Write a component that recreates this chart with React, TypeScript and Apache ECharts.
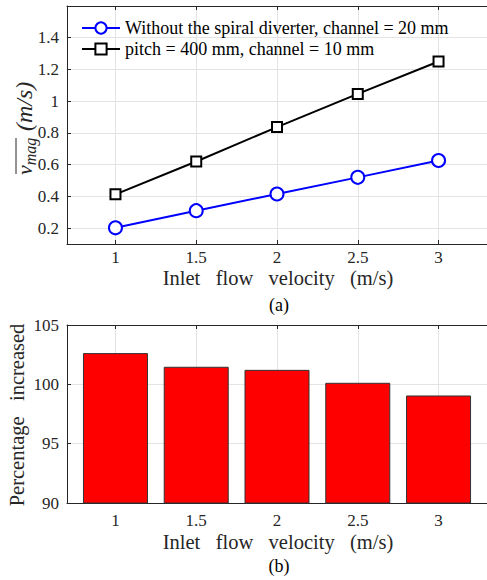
import React, { useEffect, useRef } from "react";
import * as echarts from "echarts";

const velocities = [1, 1.5, 2, 2.5, 3];
const withoutDiverter = [0.202, 0.31, 0.415, 0.52, 0.626];
const pitch400 = [0.413, 0.62, 0.837, 1.046, 1.25];
const percentIncreased = [102.63, 101.48, 101.22, 100.13, 99.06];
const topYTicks = [0.2, 0.4, 0.6, 0.8, 1, 1.2, 1.4];
const bottomYTicks = [90, 95, 100, 105];
const seriesNames = [
  "Without the spiral diverter, channel = 20 mm",
  "pitch = 400 mm, channel = 10 mm",
];
const xTitle = "Inlet   flow   velocity   (m/s)";
const bottomYTitle = "Percentage   increased";

const FONT = "Liberation Serif";
const AX = "#262626";
const GRIDC = "#e3e3e3";

function xAxisBase(gridIndex: number, labelMargin: number) {
  return {
    type: "value",
    gridIndex,
    min: 0.7,
    max: 3.3,
    position: "bottom",
    axisLine: { show: true, onZero: false, lineStyle: { color: AX, width: 1 } },
    axisTick: { show: true, inside: true, length: 4, customValues: velocities, lineStyle: { color: AX } },
    axisLabel: {
      customValues: velocities,
      fontFamily: FONT,
      fontSize: 17,
      color: AX,
      margin: labelMargin,
      formatter: (v: number) => String(v),
    },
    splitLine: { show: true, lineStyle: { color: GRIDC, width: 1 } },
  };
}

function xAxisTop(gridIndex: number) {
  return {
    type: "value",
    gridIndex,
    min: 0.7,
    max: 3.3,
    position: "top",
    axisLine: { show: true, onZero: false, lineStyle: { color: AX, width: 1 } },
    axisTick: { show: true, inside: true, length: 4, customValues: velocities, lineStyle: { color: AX } },
    axisLabel: { show: false },
    splitLine: { show: false },
  };
}

export default function App() {
  const ref = useRef<HTMLDivElement>(null);
  useEffect(() => {
    if (!ref.current) return;
    const chart = echarts.init(ref.current, undefined, { renderer: "svg" });
    const option: any = {
      animation: false,
      backgroundColor: "#ffffff",
      textStyle: { fontFamily: FONT },
      grid: [
        { left: 67, top: 6, right: -3, height: 238 },
        { left: 67, top: 325, right: -3, height: 178 },
      ],
      xAxis: [xAxisBase(0, 5), xAxisTop(0), xAxisBase(1, 9), xAxisTop(1)],
      yAxis: [
        {
          type: "value",
          gridIndex: 0,
          min: 0.1,
          max: 1.6,
          axisLine: { show: true, onZero: false, lineStyle: { color: AX, width: 1 } },
          axisTick: { show: true, inside: true, length: 4, customValues: topYTicks, lineStyle: { color: AX } },
          axisLabel: {
            customValues: topYTicks,
            fontFamily: FONT,
            fontSize: 17,
            color: AX,
            margin: 8,
            formatter: (v: number) => String(v),
          },
          splitLine: { show: true, lineStyle: { color: GRIDC, width: 1 } },
        },
        {
          type: "value",
          gridIndex: 1,
          min: 90,
          max: 105,
          interval: 5,
          axisLine: { show: true, onZero: false, lineStyle: { color: AX, width: 1 } },
          axisTick: { show: true, inside: true, length: 4, lineStyle: { color: AX } },
          axisLabel: { fontFamily: FONT, fontSize: 17, color: AX, margin: 8 },
          splitLine: { show: true, lineStyle: { color: GRIDC, width: 1 } },
        },
      ],
      legend: {
        orient: "vertical",
        left: 81,
        top: 19,
        padding: 0,
        itemWidth: 38,
        itemHeight: 14,
        itemGap: 3,
        textStyle: { fontFamily: FONT, fontSize: 18, color: "#000" },
        data: seriesNames,
      },
      series: [
        {
          name: seriesNames[0],
          type: "line",
          xAxisIndex: 0,
          yAxisIndex: 0,
          data: velocities.map((v, i) => [v, withoutDiverter[i]]),
          symbol: "circle",
          symbolSize: 13,
          lineStyle: { color: "#0000ff", width: 2 },
          itemStyle: { color: "#ffffff", borderColor: "#0000ff", borderWidth: 2 },
          z: 3,
        },
        {
          name: seriesNames[1],
          type: "line",
          xAxisIndex: 0,
          yAxisIndex: 0,
          data: velocities.map((v, i) => [v, pitch400[i]]),
          symbol: "rect",
          symbolSize: 10,
          lineStyle: { color: "#000000", width: 2 },
          itemStyle: { color: "#ffffff", borderColor: "#000000", borderWidth: 2 },
          z: 3,
        },
        {
          name: "Percentage increased",
          type: "bar",
          xAxisIndex: 2,
          yAxisIndex: 1,
          data: velocities.map((v, i) => [v, percentIncreased[i]]),
          barWidth: 65,
          itemStyle: { color: "#ff0000", borderColor: "#333333", borderWidth: 1 },
          z: 3,
        },
      ],
      graphic: [
        {
          type: "text",
          x: 278,
          y: 278,
          style: { text: xTitle, fontFamily: FONT, fontSize: 20.5, fill: AX, align: "center", verticalAlign: "middle" },
        },
        {
          type: "text",
          x: 279,
          y: 305,
          style: { text: "(a)", fontFamily: FONT, fontSize: 18, fill: "#000", align: "center", verticalAlign: "middle" },
        },
        {
          type: "text",
          x: 278,
          y: 542,
          style: { text: xTitle, fontFamily: FONT, fontSize: 20.5, fill: AX, align: "center", verticalAlign: "middle" },
        },
        {
          type: "text",
          x: 279,
          y: 566,
          style: { text: "(b)", fontFamily: FONT, fontSize: 18, fill: "#000", align: "center", verticalAlign: "middle" },
        },
        {
          type: "text",
          x: 17,
          y: 415,
          rotation: Math.PI / 2,
          style: { text: bottomYTitle, fontFamily: FONT, fontSize: 20.5, fill: AX, align: "center", verticalAlign: "middle" },
        },
        {
          type: "group",
          x: 24,
          y: 175,
          rotation: Math.PI / 2,
          children: [
            {
              type: "text",
              x: 0,
              y: 0,
              style: {
                text: "{v|v}{sub|mag}  {u|(m/s)}",
                align: "left",
                verticalAlign: "middle",
                fill: AX,
                rich: {
                  v: { fontFamily: FONT, fontStyle: "italic", fontSize: 22, fill: AX },
                  sub: { fontFamily: FONT, fontStyle: "italic", fontSize: 16, fill: AX, padding: [12, 0, 0, 0] },
                  u: { fontFamily: FONT, fontStyle: "italic", fontSize: 24, fill: AX },
                },
              },
            },
            {
              type: "line",
              shape: { x1: 1, y1: -8, x2: 37, y2: -8 },
              style: { stroke: AX, lineWidth: 1 },
            },
          ],
        },
      ],
    };
    chart.setOption(option);
    return () => chart.dispose();
  }, []);
  return (
    <div
      ref={ref}
      style={{ position: "absolute", left: 0, top: 0, width: 487, height: 580 }}
    />
  );
}
